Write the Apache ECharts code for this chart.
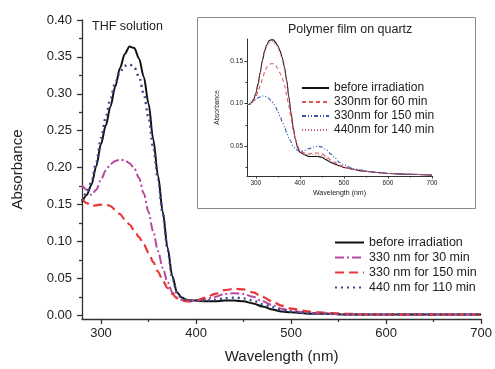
<!DOCTYPE html>
<html>
<head>
<meta charset="utf-8">
<script src="https://cdn.jsdelivr.net/npm/echarts@6/dist/echarts.min.js"></script>
<style>
  html, body { margin: 0; padding: 0; background: #fff; }
  #chart { width: 495px; height: 369px; }
</style>
</head>
<body>
<div id="chart"></div>
<script>
// wavelength grid (nm), shared by all curves
const wavelengths = [280, 285, 290, 295, 300, 305, 310, 315, 320, 325, 330, 335, 340, 345, 350, 355, 360, 365, 370, 375, 380, 385, 390, 395, 400, 410, 420, 430, 440, 450, 460, 470, 480, 490, 500, 520, 540, 560, 580, 600, 650, 700];

// THF solution
const thfBefore = [0.153, 0.163, 0.177, 0.202, 0.232, 0.257, 0.283, 0.310, 0.335, 0.354, 0.364, 0.362, 0.348, 0.323, 0.287, 0.238, 0.189, 0.140, 0.092, 0.053, 0.031, 0.024, 0.021, 0.020, 0.020, 0.019, 0.019, 0.020, 0.020, 0.019, 0.016, 0.012, 0.008, 0.005, 0.004, 0.002, 0.002, 0.001, 0.001, 0.001, 0.001, 0.001];
const thf330x30 = [0.176, 0.170, 0.163, 0.170, 0.184, 0.196, 0.205, 0.209, 0.211, 0.210, 0.206, 0.199, 0.186, 0.165, 0.140, 0.113, 0.087, 0.064, 0.045, 0.031, 0.024, 0.021, 0.020, 0.020, 0.020, 0.022, 0.025, 0.029, 0.030, 0.029, 0.025, 0.019, 0.014, 0.009, 0.006, 0.003, 0.002, 0.001, 0.001, 0.001, 0.001, 0.001];
const thf330x150 = [0.158, 0.152, 0.148, 0.149, 0.150, 0.150, 0.148, 0.143, 0.137, 0.130, 0.123, 0.115, 0.106, 0.096, 0.085, 0.072, 0.059, 0.047, 0.037, 0.029, 0.023, 0.020, 0.019, 0.019, 0.020, 0.024, 0.029, 0.034, 0.036, 0.035, 0.031, 0.025, 0.019, 0.013, 0.009, 0.005, 0.003, 0.002, 0.001, 0.001, 0.001, 0.001];
const thf440x110 = [0.155, 0.166, 0.181, 0.207, 0.240, 0.268, 0.294, 0.315, 0.330, 0.338, 0.340, 0.336, 0.323, 0.300, 0.268, 0.227, 0.184, 0.137, 0.089, 0.051, 0.030, 0.023, 0.021, 0.020, 0.020, 0.020, 0.021, 0.023, 0.024, 0.023, 0.020, 0.015, 0.011, 0.007, 0.005, 0.003, 0.002, 0.001, 0.001, 0.001, 0.001, 0.001];

// polymer film on quartz (inset)
const filmBefore = [0.099, 0.099, 0.101, 0.105, 0.112, 0.123, 0.137, 0.151, 0.162, 0.169, 0.174, 0.175, 0.175, 0.172, 0.168, 0.162, 0.154, 0.143, 0.128, 0.108, 0.089, 0.072, 0.058, 0.048, 0.043, 0.040, 0.038, 0.038, 0.038, 0.037, 0.034, 0.031, 0.029, 0.027, 0.025, 0.023, 0.021, 0.020, 0.019, 0.018, 0.017, 0.016];
const film330x60 = [0.099, 0.099, 0.100, 0.103, 0.108, 0.114, 0.121, 0.129, 0.137, 0.143, 0.146, 0.147, 0.147, 0.145, 0.141, 0.136, 0.130, 0.122, 0.110, 0.097, 0.083, 0.069, 0.058, 0.050, 0.045, 0.042, 0.041, 0.042, 0.042, 0.041, 0.038, 0.034, 0.031, 0.028, 0.026, 0.023, 0.021, 0.020, 0.019, 0.018, 0.017, 0.016];
const film330x150 = [0.099, 0.099, 0.101, 0.103, 0.105, 0.107, 0.108, 0.109, 0.109, 0.108, 0.106, 0.103, 0.100, 0.096, 0.091, 0.085, 0.079, 0.073, 0.066, 0.060, 0.055, 0.050, 0.047, 0.045, 0.044, 0.045, 0.047, 0.049, 0.050, 0.049, 0.046, 0.041, 0.036, 0.031, 0.028, 0.024, 0.022, 0.020, 0.019, 0.018, 0.017, 0.016];
const film440x140 = [0.099, 0.099, 0.101, 0.105, 0.112, 0.122, 0.135, 0.149, 0.160, 0.167, 0.172, 0.173, 0.173, 0.170, 0.166, 0.160, 0.152, 0.141, 0.126, 0.107, 0.088, 0.072, 0.058, 0.049, 0.044, 0.041, 0.040, 0.040, 0.040, 0.039, 0.036, 0.032, 0.029, 0.027, 0.025, 0.023, 0.021, 0.020, 0.019, 0.018, 0.017, 0.016];

// tick values
const mainXTicks = [300, 400, 500, 600, 700];
const mainXMinor = [350, 450, 550, 650];
const mainYTicks = [0, 0.05, 0.10, 0.15, 0.20, 0.25, 0.30, 0.35, 0.40];
const mainYMinor = [0.025, 0.075, 0.125, 0.175, 0.225, 0.275, 0.325, 0.375];
const insetXTicks = [300, 400, 500, 600, 700];
const insetXMinor = [350, 450, 550, 650];
const insetYTicks = [0.05, 0.10, 0.15];
const insetYMinor = [0.025, 0.075, 0.125];

const pairs = (values) => wavelengths.map((w, i) => [w, values[i]]);

const AXIS_COLOR = "#333";
const FONT = "'Liberation Sans', Arial, sans-serif";

const majorAxis = (gridIndex, position, min, max, labels, opts) => ({
  type: "value",
  gridIndex,
  position,
  min,
  max,
  splitLine: { show: false },
  axisLine: { show: true, onZero: false, lineStyle: { color: AXIS_COLOR, width: opts.lineWidth } },
  axisTick: { show: true, customValues: labels, length: opts.tickLen, lineStyle: { color: AXIS_COLOR, width: opts.lineWidth } },
  axisLabel: {
    customValues: labels,
    fontSize: opts.fontSize,
    color: "#222",
    margin: opts.margin,
    formatter: opts.formatter,
  },
  name: opts.name,
  nameLocation: "middle",
  nameGap: opts.nameGap,
  nameTextStyle: { fontSize: opts.nameSize, color: "#222" },
});

// second axis on the same side, only to draw the shorter minor ticks
const minorAxis = (gridIndex, position, min, max, ticks, len, lineWidth) => ({
  type: "value",
  gridIndex,
  position,
  min,
  max,
  splitLine: { show: false },
  axisLine: { show: false, onZero: false },
  axisLabel: { show: false },
  axisTick: { show: true, customValues: ticks, length: len, lineStyle: { color: AXIS_COLOR, width: lineWidth } },
});

const lineSeries = (name, values, xi, yi, color, width, type) => ({
  name,
  type: "line",
  xAxisIndex: xi,
  yAxisIndex: yi,
  data: pairs(values),
  symbol: "none",
  smooth: 0.3,
  smoothMonotone: "x",
  lineStyle: { color, width, type },
  itemStyle: { color },
  z: 3,
});

const chart = echarts.init(document.getElementById("chart"));

chart.setOption({
  animation: false,
  textStyle: { fontFamily: FONT },
  title: [
    { text: "THF solution", left: 92, top: 20, padding: 0, textStyle: { fontSize: 12.5, fontWeight: "normal", color: "#222" } },
    { text: "Polymer film on quartz", left: 288, top: 23, padding: 0, textStyle: { fontSize: 12.5, fontWeight: "normal", color: "#222" } },
  ],
  graphic: [
    {
      type: "rect",
      z: -10,
      shape: { x: 197.5, y: 17.5, width: 278, height: 191 },
      style: { fill: "#fff", stroke: "#8a8a8a", lineWidth: 1 },
    },
  ],
  grid: [
    { left: 82, top: 20, width: 403, height: 301 },
    { left: 247, top: 39, width: 185, height: 137 },
  ],
  xAxis: [
    majorAxis(0, "bottom", 280, 700, mainXTicks, { lineWidth: 1.3, tickLen: 5, fontSize: 13, margin: 8, name: "Wavelength (nm)", nameGap: 30, nameSize: 15 }),
    minorAxis(0, "bottom", 280, 700, mainXMinor, 3, 1.3),
    majorAxis(1, "bottom", 280, 700, insetXTicks, { lineWidth: 1, tickLen: 2.5, fontSize: 6.5, margin: 4, name: "Wavelength (nm)", nameGap: 14, nameSize: 7 }),
    minorAxis(1, "bottom", 280, 700, insetXMinor, 1.5, 1),
  ],
  yAxis: [
    majorAxis(0, "left", -0.005, 0.4, mainYTicks, { lineWidth: 1.3, tickLen: 5, fontSize: 13, margin: 10, name: "Absorbance", nameGap: 57, nameSize: 15, formatter: (v) => v.toFixed(2) }),
    minorAxis(0, "left", -0.005, 0.4, mainYMinor, 3, 1.3),
    majorAxis(1, "left", 0.015, 0.176, insetYTicks, { lineWidth: 1, tickLen: 2.5, fontSize: 6.5, margin: 4, name: "Absorbance", nameGap: 26, nameSize: 6.5, formatter: (v) => v.toFixed(2) }),
    minorAxis(1, "left", 0.015, 0.176, insetYMinor, 1.5, 1),
  ],
  legend: [
    {
      orient: "vertical",
      left: 334,
      top: 236,
      padding: 0,
      itemWidth: 29,
      itemHeight: 14,
      itemGap: 2,
      itemStyle: { opacity: 0 },
      textStyle: { fontSize: 12.5, color: "#222" },
      data: ["before irradiation", "330 nm for 30 min", "330 nm for 150 min", "440 nm for 110 min"],
    },
    {
      orient: "vertical",
      left: 301,
      top: 82,
      padding: 0,
      itemWidth: 27,
      itemHeight: 13,
      itemGap: 2,
      itemStyle: { opacity: 0 },
      textStyle: { fontSize: 12, color: "#222" },
      data: ["before irradiation", "330nm for 60 min", "330nm for 150 min", "440nm for 140 min"],
    },
  ],
  series: [
    lineSeries("before irradiation", thfBefore, 0, 0, "#111", 2, "solid"),
    lineSeries("330 nm for 30 min", thf330x30, 0, 0, "#b8489f", 2, [9, 3, 2, 3]),
    lineSeries("330 nm for 150 min", thf330x150, 0, 0, "#e8363a", 2.2, [9, 5]),
    lineSeries("440 nm for 110 min", thf440x110, 0, 0, "#38478a", 2.4, [2, 4]),
    lineSeries("before irradiation", filmBefore, 2, 2, "#111", 1.1, "solid"),
    lineSeries("330nm for 60 min", film330x60, 2, 2, "#e05555", 1.1, [4, 3]),
    lineSeries("330nm for 150 min", film330x150, 2, 2, "#3355b0", 1.1, [4, 2, 1, 2, 1, 2]),
    lineSeries("440nm for 140 min", film440x140, 2, 2, "#d05a7a", 1.1, [1, 2]),
  ],
});
</script>
</body>
</html>
